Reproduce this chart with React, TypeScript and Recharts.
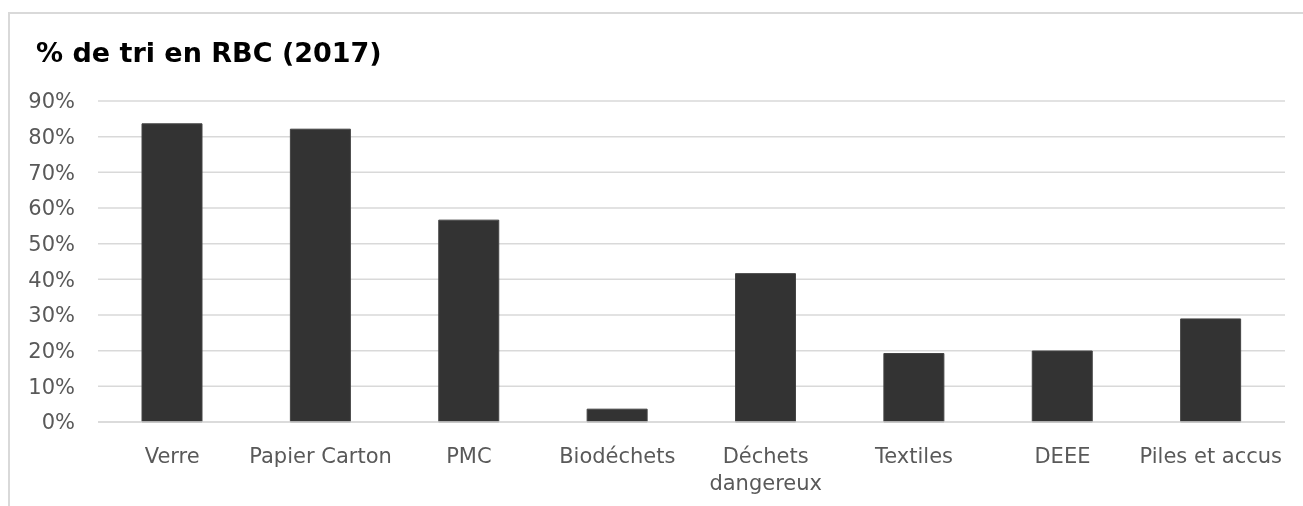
import React from 'react'
import { BarChart, Bar, XAxis, YAxis, CartesianGrid, Text } from 'recharts'

const categories = ['Verre', 'Papier Carton', 'PMC', 'Biodéchets', 'Déchets dangereux', 'Textiles', 'DEEE', 'Piles et accus']
const tauxTri = [83.6, 82.1, 56.6, 3.6, 41.6, 19.2, 19.9, 28.9]
const yTicks = [0, 10, 20, 30, 40, 50, 60, 70, 80, 90]

const FONT = '"DejaVu Sans", Verdana, sans-serif'
const TEXT_COLOR = '#595959'
const GRID_COLOR = '#d9d9d9'

const data = categories.map((name, i) => ({ name, value: tauxTri[i] }))

// libellés de catégorie sur plusieurs lignes si trop longs
const CategoryTick = (props: any) => {
  const { x, y, payload } = props
  return (
    <Text
      x={x}
      y={y + 18}
      width={150}
      textAnchor="middle"
      verticalAnchor="start"
      lineHeight={27}
      fill={TEXT_COLOR}
      style={{ fontSize: 21, fontFamily: FONT }}
    >
      {payload.value}
    </Text>
  )
}

const App: React.FC = () => {
  return (
    <div style={{ position: 'relative', width: 1295, height: 490, background: '#fff' }}>
      {/* cadre du graphique, coupé par les bords de la fenêtre */}
      <div style={{
        position: 'fixed', left: 8, top: 12, right: -50, bottom: -50,
        borderTop: `2px solid ${GRID_COLOR}`, borderLeft: `2px solid ${GRID_COLOR}`,
        pointerEvents: 'none',
      }} />
      <div style={{
        position: 'absolute', left: 28, top: 29, fontFamily: FONT, fontWeight: 700,
        fontSize: 27, color: '#000', whiteSpace: 'nowrap',
      }}>
        % de tri en RBC (2017)
      </div>
      <BarChart
        width={1295}
        height={490}
        data={data}
        margin={{ top: 93, right: 18, left: 0, bottom: 0 }}
        style={{ position: 'absolute', left: 0, top: 0 }}
      >
        <CartesianGrid vertical={false} stroke={GRID_COLOR} strokeWidth={1.5} />
        <XAxis
          dataKey="name"
          height={76}
          interval={0}
          axisLine={{ stroke: GRID_COLOR, strokeWidth: 1.5 }}
          tickLine={false}
          tick={<CategoryTick />}
        />
        <YAxis
          width={90}
          domain={[0, 90]}
          ticks={yTicks}
          axisLine={false}
          tickLine={false}
          tickMargin={17}
          tickFormatter={v => `${v}%`}
          tick={{ fontSize: 21, fontFamily: FONT, fill: TEXT_COLOR }}
        />
        <Bar dataKey="value" fill="#333333" stroke="#444444" strokeWidth={1} barSize={60} isAnimationActive={false} />
      </BarChart>
    </div>
  )
}

export default App
